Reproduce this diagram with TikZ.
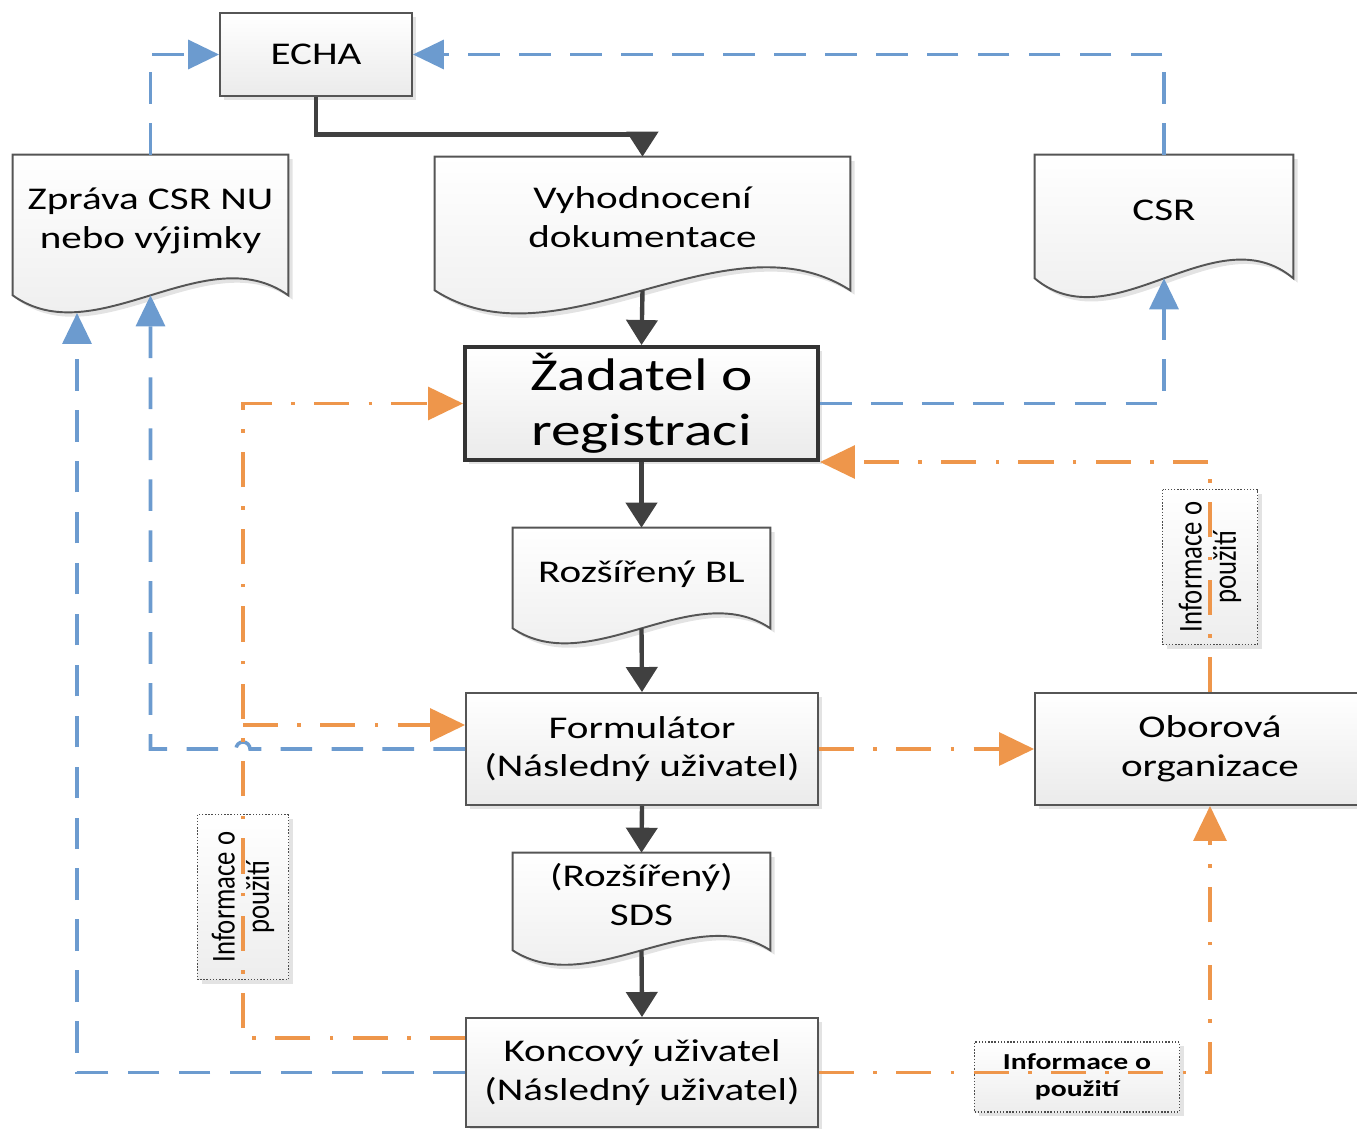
\documentclass[tikz,border=0pt]{standalone}
\usepackage{fontspec}
\setmainfont[FakeStretch=1.3]{Carlito}
\newfontfamily\vertfont[FakeStretch=0.8]{Carlito}
\usepackage{tikz}
\usetikzlibrary{positioning,calc,arrows.meta,shadows,backgrounds}

\definecolor{linkblue}{RGB}{108,155,207}
\definecolor{linkorange}{RGB}{238,150,75}
\definecolor{flowdark}{RGB}{64,64,64}
\definecolor{boxedge}{RGB}{85,85,85}

\newcommand{\doclines}[1]{\raisebox{0.07cm}[\height][\depth]{\begin{tabular}{@{}c@{}}#1\end{tabular}}}

\tikzset{
  boxshadow/.style={drop shadow={shadow xshift=2.5pt,shadow yshift=-2.5pt,opacity=0.22}},
  procbox/.style={rectangle,draw=boxedge,line width=1.1pt,top color=white,bottom color=gray!16,boxshadow,
    align=center,inner sep=0pt,font=\fontsize{18}{22}\selectfont},
  doctext/.style={rectangle,inner sep=0pt,font=\fontsize{18}{22}\selectfont},
  docshape/.style={draw=boxedge,line width=1.1pt,top color=white,bottom color=gray!16,boxshadow},
  notebox/.style={rectangle,draw=gray!60!black,densely dotted,line width=0.8pt,top color=white,bottom color=gray!14,
    boxshadow,align=center,inner sep=0pt},
  mainflow/.style={draw=flowdark,line width=2.5pt,-{Triangle[length=0.5cm,width=0.62cm]}},
  reportline/.style={draw=linkblue,line width=2pt,dash pattern=on 18pt off 11pt,-{Triangle[length=0.62cm,width=0.58cm]}},
  infoline/.style={draw=linkorange,line width=1.8pt,dash pattern=on 20pt off 11pt on 2pt off 11pt,-{Triangle[length=0.7cm,width=0.66cm]}}
}

\begin{document}
\begin{tikzpicture}[x=0.02cm,y=-0.02cm]
    \useasboundingbox (0,0) rectangle (1357,1129);

    % process boxes
    \node[procbox,minimum width=3.84cm,minimum height=1.66cm] (echa) at (316,54.5) {ECHA};
    \node[procbox,minimum width=7.06cm,minimum height=2.26cm,line width=2.3pt,draw=black!80,
          font=\fontsize{26}{31.3}\selectfont] (zad) at (641.5,403.5) {Žadatel o\\registraci};
    \node[procbox,minimum width=7.04cm,minimum height=2.24cm] (form) at (642,749) {Formulátor\\(Následný uživatel)};
    \node[procbox,minimum width=7.04cm,minimum height=2.18cm] (konc) at (642,1072.5) {Koncový uživatel\\(Následný uživatel)};
    \node[procbox,minimum width=7cm,minimum height=2.24cm] (obor) at (1210,749) {Oborová\\organizace};

    % documents
    \node[doctext,minimum width=5.5cm,minimum height=2.8cm] (zprava) at (150.5,225) {\doclines{Zpráva CSR NU\\nebo výjimky}};
    \node[doctext,minimum width=8.3cm,minimum height=2.66cm] (vyhod) at (642.5,223.5) {\doclines{Vyhodnocení\\dokumentace}};
    \node[doctext,minimum width=5.16cm,minimum height=2.46cm] (csr) at (1164,216.5) {\doclines{CSR}};
    \node[doctext,minimum width=5.14cm,minimum height=2cm] (rbl) at (641.5,578) {\doclines{Rozšířený BL}};
    \node[doctext,minimum width=5.14cm,minimum height=1.94cm] (sds) at (641.5,901.5) {\doclines{(Rozšířený)\\SDS}};
    \begin{scope}[on background layer]
        \foreach \n/\d in {zprava/1.18,vyhod/1.6,csr/1.3,rbl/1.04,sds/1.0}
            \path[docshape] (\n.north west) -- (\n.north east) -- (\n.south east)
                .. controls ($(\n.south east)!0.3!(\n.south west)+(0cm,\d cm)$)
                and ($(\n.south east)!0.7!(\n.south west)+(0cm,-\d cm)$) .. (\n.south west) -- cycle;
    \end{scope}

    % notes
    \node[notebox,rotate=90,minimum width=3.1cm,minimum height=1.9cm,font=\vertfont\fontsize{19}{19.5}\selectfont]
        (infR) at (1210,567) {Informace o\\použití};
    \node[notebox,rotate=90,minimum width=3.3cm,minimum height=1.82cm,font=\vertfont\fontsize{19}{19.5}\selectfont]
        (infL) at (243,897) {Informace o\\použití};
    \node[notebox,minimum width=4.1cm,minimum height=1.4cm,font=\bfseries\fontsize{13}{15.4}\selectfont]
        (infB) at (1077,1077) {Informace o\\použití};

    % main flow
    \draw[mainflow] (echa.south) |- ($(vyhod.north)+(0,-22)$) -- (vyhod.north);
    \draw[mainflow] (vyhod.south) -- (zad.north);
    \draw[mainflow] (zad.south) -- (rbl.north);
    \draw[mainflow] (rbl.south) -- (form.north);
    \draw[mainflow] (form.south) -- (sds.north);
    \draw[mainflow] (sds.south) -- (konc.north);

    % reports
    \coordinate (zpdip) at (77,313);
    \draw[reportline] (zprava.north) |- (echa.west);
    \draw[reportline] (csr.north) |- (echa.east);
    \draw[reportline] (zad.east) -| (csr.south);
    \draw[reportline] (form.west) -- ($(form.west -| infL.center)+(7,0)$)
        arc[start angle=0,end angle=180,radius=0.14cm] -| (zprava.south);
    \draw[reportline] (konc.west) -| (zpdip);

    % use information
    \coordinate (kin) at ([yshift=0.69cm]konc.west);
    \coordinate (fin) at ([yshift=0.48cm]form.west);
    \draw[infoline] (kin) -| (infL.center) |- (zad.west);
    \draw[infoline] (fin -| infL.center) -- (fin);
    \draw[infoline] (form.east) -- (obor.west);
    \draw[infoline] (konc.east) -| (obor.south);
    \draw[infoline] (obor.north) |- (zad.south east);
\end{tikzpicture}
\end{document}
